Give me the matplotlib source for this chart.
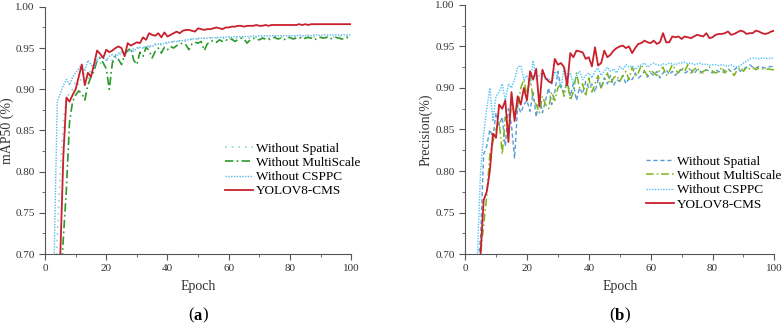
import matplotlib.pyplot as plt
import numpy as np
from matplotlib.ticker import MultipleLocator

plt.rcParams['font.family'] = ['Liberation Serif', 'DejaVu Serif']

epochs = np.arange(1, 101)

# (a) mAP50
a_spatial = [0.45, 0.55, 0.65, 0.72, 0.80, 0.86, 0.89, 0.895, 0.90, 0.91,
             0.905, 0.915, 0.92, 0.91, 0.925, 0.93, 0.935, 0.93, 0.94, 0.935,
             0.938, 0.935, 0.942, 0.945, 0.94, 0.946, 0.948, 0.945, 0.95, 0.948,
             0.952, 0.95, 0.953, 0.951, 0.954, 0.955, 0.953, 0.956, 0.957, 0.955,
             0.957, 0.958, 0.957, 0.959, 0.96, 0.958, 0.96, 0.961, 0.96, 0.961,
             0.961, 0.962, 0.961, 0.962, 0.961, 0.962, 0.963, 0.962, 0.961, 0.962,
             0.963, 0.962, 0.962, 0.963, 0.962, 0.963, 0.962, 0.963, 0.963, 0.962,
             0.963, 0.963, 0.962, 0.963, 0.964, 0.963, 0.963, 0.964, 0.963, 0.963,
             0.964, 0.963, 0.964, 0.963, 0.964, 0.964, 0.963, 0.964, 0.964, 0.963,
             0.964, 0.964, 0.964, 0.963, 0.964, 0.964, 0.964, 0.964, 0.964, 0.964]
a_multiscale = [0.30, 0.42, 0.52, 0.60, 0.66, 0.72, 0.78, 0.86, 0.885, 0.893,
                0.898, 0.895, 0.887, 0.905, 0.915, 0.922, 0.935, 0.938, 0.932, 0.925,
                0.900, 0.932, 0.940, 0.936, 0.930, 0.942, 0.947, 0.950, 0.935, 0.930,
                0.945, 0.940, 0.951, 0.947, 0.938, 0.946, 0.950, 0.944, 0.951, 0.948,
                0.952, 0.950, 0.953, 0.955, 0.956, 0.954, 0.948, 0.955, 0.957, 0.956,
                0.958, 0.947, 0.955, 0.958, 0.959, 0.957, 0.960, 0.958, 0.960, 0.959,
                0.961, 0.958, 0.960, 0.962, 0.961, 0.956, 0.960, 0.962, 0.961, 0.960,
                0.962, 0.961, 0.960, 0.962, 0.963, 0.961, 0.962, 0.960, 0.962, 0.963,
                0.961, 0.962, 0.963, 0.961, 0.962, 0.963, 0.962, 0.960, 0.962, 0.963,
                0.962, 0.963, 0.961, 0.962, 0.963, 0.962, 0.961, 0.962, 0.963, 0.962]
a_csppc = [0.50, 0.62, 0.70, 0.885, 0.895, 0.905, 0.912, 0.905, 0.915, 0.92,
           0.925, 0.930, 0.922, 0.935, 0.930, 0.925, 0.936, 0.940, 0.938, 0.935,
           0.940, 0.942, 0.938, 0.944, 0.945, 0.943, 0.946, 0.948, 0.946, 0.950,
           0.951, 0.950, 0.952, 0.953, 0.952, 0.954, 0.955, 0.954, 0.956, 0.957,
           0.957, 0.958, 0.958, 0.959, 0.959, 0.960, 0.960, 0.961, 0.961, 0.962,
           0.962, 0.962, 0.962, 0.963, 0.962, 0.963, 0.963, 0.963, 0.963, 0.964,
           0.963, 0.964, 0.964, 0.964, 0.964, 0.964, 0.964, 0.965, 0.964, 0.965,
           0.965, 0.965, 0.965, 0.965, 0.965, 0.965, 0.965, 0.965, 0.965, 0.965,
           0.965, 0.965, 0.966, 0.965, 0.965, 0.966, 0.965, 0.966, 0.966, 0.965,
           0.966, 0.966, 0.966, 0.966, 0.966, 0.966, 0.966, 0.966, 0.966, 0.966]
a_cms = [0.40, 0.52, 0.60, 0.66, 0.70, 0.82, 0.89, 0.885, 0.893, 0.90,
         0.915, 0.93, 0.905, 0.92, 0.915, 0.93, 0.947, 0.943, 0.938, 0.948,
         0.945, 0.947, 0.950, 0.952, 0.950, 0.940, 0.956, 0.953, 0.955, 0.957,
         0.956, 0.963, 0.960, 0.968, 0.966, 0.965, 0.968, 0.963, 0.969, 0.964,
         0.966, 0.968, 0.970, 0.968, 0.971, 0.972, 0.972, 0.971, 0.970, 0.974,
         0.973, 0.972, 0.973, 0.973, 0.974, 0.975, 0.974, 0.973, 0.975, 0.975,
         0.976, 0.976, 0.977, 0.977, 0.976, 0.977, 0.977, 0.977, 0.978, 0.977,
         0.977, 0.978, 0.977, 0.978, 0.978, 0.978, 0.978, 0.978, 0.978, 0.978,
         0.978, 0.978, 0.979, 0.978, 0.979, 0.978, 0.979, 0.979, 0.979, 0.979,
         0.979, 0.979, 0.979, 0.979, 0.979, 0.979, 0.979, 0.979, 0.979, 0.979]

# (b) Precision
b_spatial = [0.40, 0.52, 0.62, 0.68, 0.72, 0.82, 0.83, 0.85, 0.84, 0.87,
             0.855, 0.865, 0.83, 0.875, 0.855, 0.815, 0.88, 0.87, 0.88, 0.885,
             0.872, 0.895, 0.865, 0.89, 0.87, 0.885, 0.90, 0.88, 0.895, 0.92,
             0.90, 0.895, 0.91, 0.89, 0.905, 0.885, 0.90, 0.893, 0.908, 0.90,
             0.905, 0.895, 0.91, 0.90, 0.912, 0.905, 0.915, 0.903, 0.91, 0.908,
             0.915, 0.905, 0.912, 0.91, 0.918, 0.912, 0.915, 0.92, 0.913, 0.918,
             0.915, 0.92, 0.912, 0.918, 0.922, 0.916, 0.92, 0.915, 0.92, 0.922,
             0.918, 0.92, 0.922, 0.917, 0.922, 0.92, 0.918, 0.922, 0.92, 0.918,
             0.922, 0.92, 0.918, 0.921, 0.923, 0.92, 0.922, 0.925, 0.92, 0.923,
             0.925, 0.928, 0.925, 0.924, 0.926, 0.925, 0.924, 0.925, 0.926, 0.925]
b_multiscale = [0.35, 0.48, 0.58, 0.65, 0.70, 0.735, 0.77, 0.82, 0.835, 0.85,
                0.86, 0.82, 0.865, 0.85, 0.88, 0.87, 0.875, 0.90, 0.91, 0.89,
                0.915, 0.885, 0.88, 0.87, 0.89, 0.88, 0.875, 0.895, 0.885, 0.90,
                0.905, 0.89, 0.91, 0.885, 0.895, 0.918, 0.90, 0.905, 0.89, 0.912,
                0.895, 0.905, 0.915, 0.90, 0.91, 0.918, 0.905, 0.912, 0.915, 0.908,
                0.915, 0.92, 0.91, 0.925, 0.915, 0.918, 0.928, 0.92, 0.915, 0.922,
                0.918, 0.915, 0.922, 0.925, 0.915, 0.92, 0.928, 0.922, 0.918, 0.925,
                0.92, 0.928, 0.918, 0.922, 0.925, 0.918, 0.92, 0.922, 0.925, 0.92,
                0.918, 0.92, 0.925, 0.918, 0.922, 0.92, 0.915, 0.922, 0.925, 0.92,
                0.925, 0.923, 0.925, 0.922, 0.924, 0.923, 0.922, 0.923, 0.922, 0.922]
b_csppc = [0.45, 0.58, 0.66, 0.70, 0.80, 0.845, 0.875, 0.90, 0.86, 0.89,
           0.895, 0.905, 0.885, 0.905, 0.90, 0.91, 0.925, 0.927, 0.91, 0.915,
           0.905, 0.933, 0.91, 0.915, 0.92, 0.91, 0.912, 0.905, 0.92, 0.915,
           0.90, 0.925, 0.912, 0.918, 0.905, 0.915, 0.92, 0.91, 0.915, 0.918,
           0.912, 0.92, 0.924, 0.915, 0.92, 0.925, 0.92, 0.923, 0.918, 0.926,
           0.922, 0.928, 0.925, 0.927, 0.922, 0.926, 0.928, 0.93, 0.925, 0.928,
           0.93, 0.928, 0.927, 0.929, 0.928, 0.93, 0.929, 0.928, 0.93, 0.93,
           0.931, 0.929, 0.93, 0.928, 0.929, 0.93, 0.928, 0.929, 0.927, 0.928,
           0.928, 0.927, 0.928, 0.927, 0.926, 0.928, 0.926, 0.925, 0.927, 0.93,
           0.932, 0.935, 0.936, 0.936, 0.935, 0.936, 0.936, 0.935, 0.936, 0.936]
b_cms = [0.35, 0.48, 0.58, 0.66, 0.70, 0.765, 0.775, 0.80, 0.845, 0.84,
         0.88, 0.875, 0.885, 0.835, 0.895, 0.86, 0.89, 0.88, 0.90, 0.885,
         0.92, 0.91, 0.923, 0.878, 0.922, 0.912, 0.908, 0.906, 0.935, 0.928,
         0.930, 0.925, 0.903, 0.942, 0.937, 0.945, 0.944, 0.943, 0.935, 0.937,
         0.926, 0.949, 0.927, 0.930, 0.945, 0.937, 0.940, 0.945, 0.948, 0.950,
         0.951, 0.948, 0.950, 0.942, 0.948, 0.953, 0.954, 0.957, 0.955, 0.954,
         0.957, 0.953, 0.955, 0.966, 0.955, 0.955, 0.962, 0.961, 0.962, 0.959,
         0.962, 0.961, 0.960, 0.962, 0.964, 0.963, 0.962, 0.966, 0.960, 0.961,
         0.964, 0.965, 0.965, 0.966, 0.968, 0.964, 0.965, 0.967, 0.969, 0.968,
         0.965, 0.966, 0.966, 0.969, 0.968, 0.966, 0.965, 0.966, 0.968, 0.969]

labels = ["Without Spatial", "Without MultiScale", "Without CSPPC", "YOLOV8-CMS"]

fig = plt.figure(figsize=(7.83, 3.27), dpi=100)
ax1 = fig.add_axes([0.0575, 0.223, 0.391, 0.756])
ax2 = fig.add_axes([0.594, 0.223, 0.395, 0.762])

red = "#c8202c"
ax1.plot(epochs, a_spatial, color="#8fd3cf", lw=1.2, ls=(0, (1, 3)), label=labels[0])
ax1.plot(epochs, a_multiscale, color="#2a9a2a", lw=1.2, ls=(0, (5, 2, 1, 2)), label=labels[1])
ax1.plot(epochs, a_csppc, color="#5ab8e8", lw=1.0, ls=(0, (1, 1)), label=labels[2])
ax1.plot(epochs, a_cms, color=red, lw=1.3, label=labels[3])

ax2.plot(epochs, b_spatial, color="#5b9bd5", lw=1.0, ls=(0, (3, 2)), label=labels[0])
ax2.plot(epochs, b_multiscale, color="#7cb518", lw=1.1, ls=(0, (5, 2, 1, 2)), label=labels[1])
ax2.plot(epochs, b_csppc, color="#4fc3f7", lw=1.0, ls=(0, (1, 1)), label=labels[2])
ax2.plot(epochs, b_cms, color=red, lw=1.3, label=labels[3])

for ax in (ax1, ax2):
    ax.set_xlim(0, 100)
    ax.set_ylim(0.70, 1.00)
    ax.xaxis.set_major_locator(MultipleLocator(20))
    ax.xaxis.set_minor_locator(MultipleLocator(10))
    ax.yaxis.set_major_locator(MultipleLocator(0.05))
    ax.yaxis.set_minor_locator(MultipleLocator(0.025))
    ax.yaxis.set_major_formatter(plt.FormatStrFormatter("%.2f"))
    ax.spines["top"].set_visible(False)
    ax.spines["right"].set_visible(False)
    for s in ("left", "bottom"):
        ax.spines[s].set_color("#555555")
    ax.tick_params(which="both", direction="out", colors="#555555", labelcolor="#333333", labelsize=8)
    ax.tick_params(which="major", length=4)
    ax.tick_params(which="minor", length=2.5)
    ax.set_xlabel("Epoch", fontsize=10, color="#333333", labelpad=5)

ax1.set_ylabel("mAP50 (%)", fontsize=10, color="#333333")
ax2.set_ylabel("Precision(%)", fontsize=10, color="#333333")
ax1.yaxis.set_label_coords(-0.100, 0.5)
ax2.yaxis.set_label_coords(-0.105, 0.5)

leg_kw = dict(loc="center left", frameon=False, fontsize=9.5, handlelength=2.1,
              handletextpad=0.25, labelspacing=0.15, borderpad=0, borderaxespad=0)
ax1.legend(bbox_to_anchor=(0.588, 0.34), **leg_kw)
ax2.legend(bbox_to_anchor=(0.586, 0.285), **leg_kw)

fig.text(0.247, 0.035, "(", fontsize=12, ha="right", va="center")
fig.text(0.247, 0.035, "a", fontsize=12, ha="left", va="center", fontweight="bold")
fig.text(0.259, 0.035, ")", fontsize=12, ha="left", va="center")
fig.text(0.785, 0.035, "(", fontsize=12, ha="right", va="center")
fig.text(0.785, 0.035, "b", fontsize=12, ha="left", va="center", fontweight="bold")
fig.text(0.798, 0.035, ")", fontsize=12, ha="left", va="center")

fig.savefig("out.png", dpi=100)
